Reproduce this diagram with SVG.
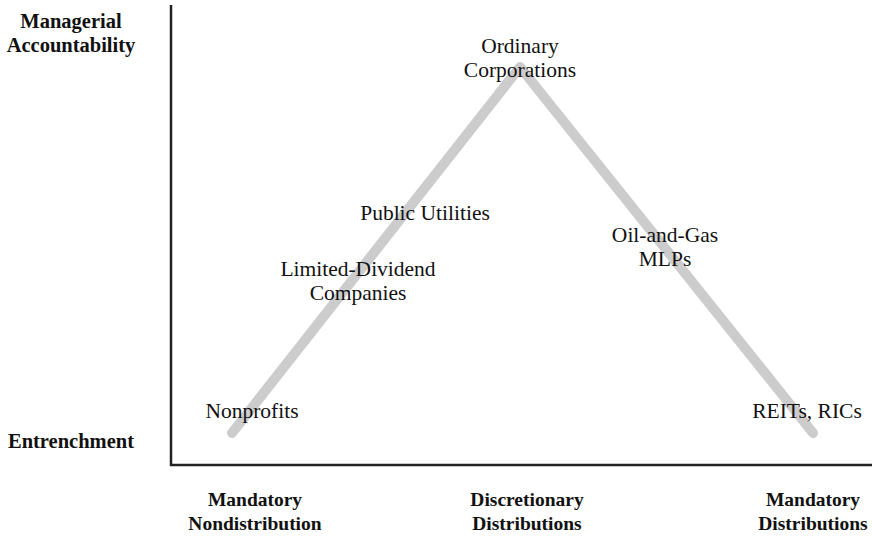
<svg xmlns="http://www.w3.org/2000/svg" width="872" height="538" viewBox="0 0 872 538">
<style>
.lbl{font-family:"Liberation Serif",serif;font-size:21.5px;fill:#111;text-anchor:middle}
.ax{font-family:"Liberation Serif",serif;font-size:20.5px;font-weight:bold;fill:#111;text-anchor:middle}
.axb{font-family:"Liberation Serif",serif;font-size:19.5px;font-weight:bold;fill:#111;text-anchor:middle}
.axis{stroke:#222;stroke-width:2.5;fill:none}
.path{stroke:#cccccc;stroke-width:10;fill:none;stroke-linecap:round;stroke-linejoin:round}
</style>
<rect width="872" height="538" fill="#fff"/>
<g id="axes">
<path class="axis" d="M171,5 V465 H872"/>
</g>
<g id="connectors">
<path class="path" d="M232,433 L520,67 L813,433"/>
</g>
<g id="y-top"><text class="ax" x="71" y="28">Managerial</text><text class="ax" x="71" y="52">Accountability</text></g>
<g id="y-bottom"><text class="ax" x="71" y="448">Entrenchment</text></g>
<g id="x-left"><text class="axb" x="255" y="506">Mandatory</text><text class="axb" x="255" y="530">Nondistribution</text></g>
<g id="x-mid"><text class="axb" x="527" y="506">Discretionary</text><text class="axb" x="527" y="530">Distributions</text></g>
<g id="x-right"><text class="axb" x="813" y="506">Mandatory</text><text class="axb" x="813" y="530">Distributions</text></g>
<g id="ordinary"><text class="lbl" x="520" y="53">Ordinary</text><text class="lbl" x="520" y="77">Corporations</text></g>
<g id="utilities"><text class="lbl" x="425" y="220">Public Utilities</text></g>
<g id="limited"><text class="lbl" x="358" y="276">Limited-Dividend</text><text class="lbl" x="358" y="300">Companies</text></g>
<g id="oilgas"><text class="lbl" x="665" y="242">Oil-and-Gas</text><text class="lbl" x="665" y="266">MLPs</text></g>
<g id="nonprofits"><text class="lbl" x="252" y="418">Nonprofits</text></g>
<g id="reits"><text class="lbl" x="807" y="418">REITs, RICs</text></g>
</svg>
